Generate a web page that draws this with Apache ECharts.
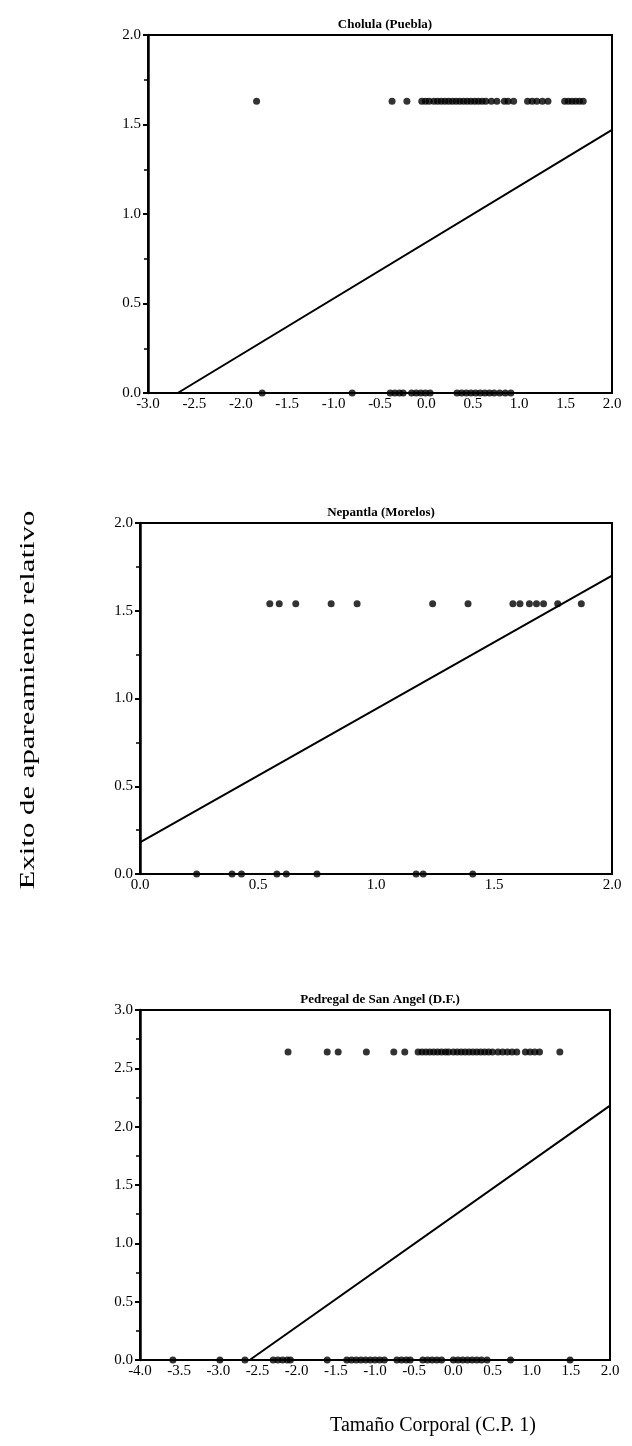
<!DOCTYPE html>
<html>
<head>
<meta charset="utf-8">
<script src="https://cdn.jsdelivr.net/npm/echarts@6/dist/echarts.min.js"></script>
<style>
  html, body { margin: 0; padding: 0; background: #fff; }
  #chart { width: 632px; height: 1446px; }
</style>
</head>
<body>
<div id="chart"></div>
<script>
// Panel titles
const panelTitles = ['Cholula (Puebla)', 'Nepantla (Morelos)', 'Pedregal de San Angel (D.F.)'];

// Cholula: body size (PC1) of mated males (top row) and unmated males (y = 0)
const cholulaMatedY = 1.63;
const cholulaMatedX = [-1.83, -0.37, -0.21, -0.05, -0.01, 0.03, 0.08, 0.12, 0.16, 0.20, 0.24, 0.28,
  0.32, 0.36, 0.40, 0.44, 0.48, 0.52, 0.56, 0.60, 0.64, 0.70, 0.76, 0.84, 0.88, 0.94,
  1.09, 1.14, 1.19, 1.25, 1.31, 1.49, 1.53, 1.57, 1.61, 1.65, 1.69];
const cholulaUnmatedX = [-1.77, -0.80, -0.39, -0.34, -0.29, -0.25, -0.16, -0.11, -0.06, -0.01, 0.04,
  0.33, 0.38, 0.43, 0.48, 0.53, 0.58, 0.63, 0.68, 0.73, 0.79, 0.85, 0.91];
const cholulaFit = [[-2.68, 0], [2.0, 1.47]];

// Nepantla
const nepantlaMatedY = 1.54;
const nepantlaMatedX = [0.55, 0.59, 0.66, 0.81, 0.92, 1.24, 1.39, 1.58, 1.61, 1.65, 1.68, 1.71, 1.77, 1.87];
const nepantlaUnmatedX = [0.24, 0.39, 0.43, 0.58, 0.62, 0.75, 1.17, 1.20, 1.41];
const nepantlaFit = [[0.0, 0.18], [2.0, 1.70]];

// Pedregal de San Angel
const pedregalMatedY = 2.64;
const pedregalMatedX = [-2.11, -1.61, -1.47, -1.11, -0.76, -0.62, -0.45, -0.40, -0.35, -0.30, -0.25,
  -0.20, -0.15, -0.10, -0.06, 0.00, 0.05, 0.10, 0.15, 0.20, 0.25, 0.30, 0.35, 0.40, 0.45, 0.50,
  0.57, 0.63, 0.69, 0.75, 0.81, 0.92, 0.98, 1.04, 1.10, 1.36];
const pedregalUnmatedX = [-3.58, -2.98, -2.66, -2.30, -2.24, -2.18, -2.12, -2.08, -1.61, -1.36, -1.30,
  -1.24, -1.18, -1.12, -1.06, -1.00, -0.94, -0.88, -0.72, -0.66, -0.60, -0.55, -0.39, -0.33,
  -0.27, -0.21, -0.15, 0.00, 0.06, 0.12, 0.18, 0.24, 0.30, 0.36, 0.43, 0.73, 1.49];
const pedregalFit = [[-2.6, 0], [2.0, 2.18]];

// Axis ranges
const xRanges = [[-3.0, 2.0], [0.0, 2.0], [-4.0, 2.0]];
const yRanges = [[0.0, 2.0], [0.0, 2.0], [0.0, 3.0]];

const yAxisTitle = 'Exito de apareamiento relativo';
const xAxisTitle = 'Tamaño Corporal (C.P. 1)';

const serif = '"Liberation Serif", "DejaVu Serif", serif';
const grids = [
  { left: 148, top: 35, width: 464, height: 358 },
  { left: 140, top: 523, width: 472, height: 351 },
  { left: 140, top: 1010, width: 470, height: 350 }
];

const panels = [
  { matedY: cholulaMatedY, mated: cholulaMatedX, unmated: cholulaUnmatedX, fit: cholulaFit },
  { matedY: nepantlaMatedY, mated: nepantlaMatedX, unmated: nepantlaUnmatedX, fit: nepantlaFit },
  { matedY: pedregalMatedY, mated: pedregalMatedX, unmated: pedregalUnmatedX, fit: pedregalFit }
];

const chart = echarts.init(document.getElementById('chart'), null, { renderer: 'canvas' });

const option = {
  backgroundColor: '#ffffff',
  animation: false,
  title: panelTitles.map((t, i) => ({
    text: t,
    left: grids[i].left + grids[i].width / 2,
    top: grids[i].top - 22,
    textAlign: 'center',
    textStyle: { fontFamily: serif, fontSize: 13, fontWeight: 'bold', color: '#000' }
  })),
  grid: grids.map(g => Object.assign({
    show: true, borderColor: '#000', borderWidth: 2, backgroundColor: 'transparent'
  }, g)),
  xAxis: xRanges.map((r, i) => ({
    type: 'value', gridIndex: i, min: r[0], max: r[1], interval: 0.5,
    axisLine: { show: true, onZero: false, lineStyle: { color: '#000', width: 2 } },
    axisTick: { show: false },
    splitLine: { show: false },
    axisLabel: {
      color: '#000', fontFamily: serif, fontSize: 15, margin: 4,
      formatter: v => v.toFixed(1)
    }
  })),
  yAxis: yRanges.map((r, i) => ({
    type: 'value', gridIndex: i, min: r[0], max: r[1], interval: 0.5,
    axisLine: { show: true, onZero: false, lineStyle: { color: '#000', width: 2.5 } },
    axisTick: { show: true, inside: false, length: 5, lineStyle: { color: '#000', width: 2 } },
    minorTick: { show: true, splitNumber: 2, length: 4, lineStyle: { color: '#000', width: 1.5 } },
    splitLine: { show: false },
    axisLabel: {
      color: '#000', fontFamily: serif, fontSize: 15, margin: 7,
      formatter: v => v.toFixed(1)
    }
  })),
  series: []
};

panels.forEach((p, i) => {
  option.series.push({
    type: 'scatter', xAxisIndex: i, yAxisIndex: i, symbol: 'circle', symbolSize: 7,
    itemStyle: { color: '#000' },
    data: p.mated.map(x => [x, p.matedY])
  });
  option.series.push({
    type: 'scatter', xAxisIndex: i, yAxisIndex: i, symbol: 'circle', symbolSize: 7,
    itemStyle: { color: '#000' },
    data: p.unmated.map(x => [x, 0])
  });
  option.series.push({
    type: 'line', xAxisIndex: i, yAxisIndex: i, symbol: 'none',
    lineStyle: { color: '#000', width: 2 },
    data: p.fit
  });
});

// Shared axis titles
option.graphic = [
  {
    type: 'text', x: 28, y: 700, rotation: Math.PI / 2, scaleX: 1.4,
    style: {
      text: yAxisTitle, fontFamily: serif, fontSize: 22, fill: '#000',
      textAlign: 'center', textVerticalAlign: 'middle'
    }
  },
  {
    type: 'text', x: 433, y: 1426,
    style: {
      text: xAxisTitle, fontFamily: serif, fontSize: 20, fill: '#000',
      textAlign: 'center', textVerticalAlign: 'middle'
    }
  }
];

chart.setOption(option);
</script>
</body>
</html>
